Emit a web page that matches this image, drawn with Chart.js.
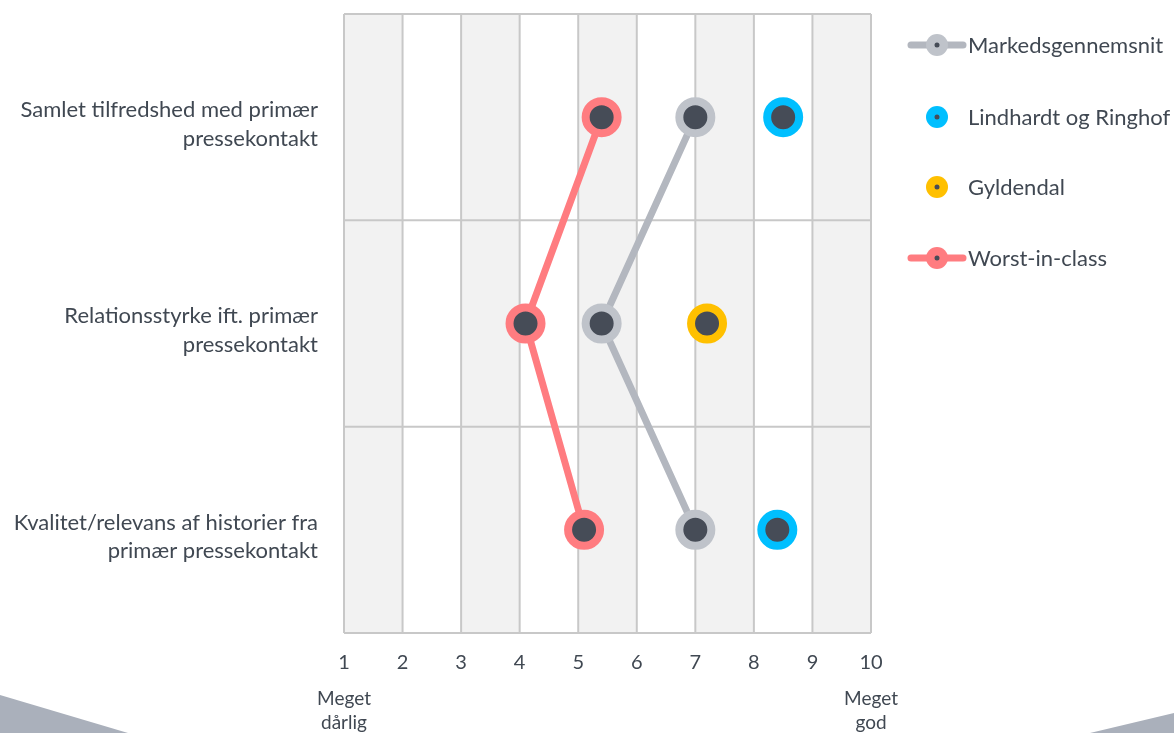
<!DOCTYPE html>
<html>
<head>
<meta charset="utf-8">
<script src="https://cdn.jsdelivr.net/npm/chart.js@4.4.1/dist/chart.umd.min.js"></script>
<style>
  html, body { margin: 0; padding: 0; background: #fff; }
  #wrap { width: 1174px; height: 733px; position: relative; }
</style>
</head>
<body>
<div id="wrap"><canvas id="chart"></canvas></div>
<script>
const categories = [
    ["Samlet tilfredshed med primær", "pressekontakt"],
    ["Relationsstyrke ift. primær", "pressekontakt"],
    ["Kvalitet/relevans af historier fra", "primær pressekontakt"]
];
const xTicks = [1, 2, 3, 4, 5, 6, 7, 8, 9, 10];
const markedsgennemsnit = [7.0, 5.4, 7.0];
const lindhardt = [8.5, null, 8.4];
const gyldendal = [null, 7.2, null];
const worstInClass = [5.4, 4.1, 5.1];
const seriesNames = ["Markedsgennemsnit", "Lindhardt og Ringhof", "Gyldendal", "Worst-in-class"];
const seriesColors = ["#bfc3ca", "#00bfff", "#ffc000", "#ff7c80"];
const lineColors = ["#b3b7bf", null, null, "#ff7c80"];

const textColor = "#404852";
const dotColor = "#464c57";
const font = "Lato, 'Open Sans', sans-serif";

// shaded columns 1-2, 3-4, ...
const bandsPlugin = {
    id: "bands",
    beforeDatasetsDraw(chart) {
        const ctx = chart.ctx, x = chart.scales.x, a = chart.chartArea;
        ctx.save();
        ctx.fillStyle = "#f2f2f2";
        for (let v = 1; v < 10; v += 2) {
            const x0 = x.getPixelForValue(v), x1 = x.getPixelForValue(v + 1);
            ctx.fillRect(x0, a.top, x1 - x0, a.bottom - a.top);
        }
        ctx.restore();
    }
};

// grid on top of the bands
const gridPlugin = {
    id: "gridOver",
    beforeDatasetsDraw(chart) {
        const ctx = chart.ctx, x = chart.scales.x, a = chart.chartArea;
        ctx.save();
        ctx.strokeStyle = "#c8c8c8";
        ctx.lineWidth = 2;
        xTicks.forEach(v => {
            const px = x.getPixelForValue(v);
            ctx.beginPath(); ctx.moveTo(px, a.top); ctx.lineTo(px, a.bottom); ctx.stroke();
        });
        const rowH = (a.bottom - a.top) / categories.length;
        for (let i = 0; i <= categories.length; i++) {
            const py = a.top + rowH * i;
            ctx.beginPath(); ctx.moveTo(a.left, py); ctx.lineTo(a.right, py); ctx.stroke();
        }
        ctx.restore();
    }
};

const extrasPlugin = {
    id: "extras",
    afterDraw(chart) {
        const ctx = chart.ctx, x = chart.scales.x;
        ctx.save();
        // decor triangles
        ctx.fillStyle = "#aab0bb";
        ctx.beginPath(); ctx.moveTo(0, 695); ctx.lineTo(128, 733); ctx.lineTo(0, 733); ctx.closePath(); ctx.fill();
        ctx.beginPath(); ctx.moveTo(1090, 733); ctx.lineTo(1174, 713); ctx.lineTo(1174, 733); ctx.closePath(); ctx.fill();

        // end labels
        ctx.fillStyle = textColor;
        ctx.font = "19px " + font;
        ctx.textAlign = "center";
        ctx.textBaseline = "middle";
        const l = x.getPixelForValue(1), r = x.getPixelForValue(10);
        ctx.fillText("Meget", l, 699);
        ctx.fillText("dårlig", l, 723);
        ctx.fillText("Meget", r, 699);
        ctx.fillText("god", r, 723);

        // legend
        const ys = [45, 117, 187, 258];
        const cx = 937;
        ctx.textAlign = "left";
        ctx.font = "22px " + font;
        seriesNames.forEach((name, i) => {
            const y = ys[i];
            if (lineColors[i]) {
                ctx.strokeStyle = lineColors[i];
                ctx.lineWidth = 7;
                ctx.lineCap = "round";
                ctx.beginPath(); ctx.moveTo(911, y); ctx.lineTo(963, y); ctx.stroke();
            }
            ctx.fillStyle = seriesColors[i];
            ctx.beginPath(); ctx.arc(cx, y, 11, 0, Math.PI * 2); ctx.fill();
            ctx.fillStyle = dotColor;
            ctx.beginPath(); ctx.arc(cx, y, 2.5, 0, Math.PI * 2); ctx.fill();
            ctx.fillStyle = textColor;
            ctx.fillText(name, 968, y + 1);
        });
        ctx.restore();
    }
};

function makeSet(i, data, showLine) {
    return {
        label: seriesNames[i],
        data: data,
        showLine: showLine,
        borderColor: lineColors[i] || seriesColors[i],
        borderWidth: 7,
        pointRadius: 16,
        pointHoverRadius: 16,
        pointBorderWidth: 8,
        pointBackgroundColor: dotColor,
        pointBorderColor: seriesColors[i],
        spanGaps: false
    };
}

new Chart(document.getElementById("chart"), {
    type: "line",
    data: {
        labels: categories,
        datasets: [
            makeSet(3, worstInClass, true),
            makeSet(0, markedsgennemsnit, true),
            makeSet(1, lindhardt, false),
            makeSet(2, gyldendal, false)
        ]
    },
    options: {
        indexAxis: "y",
        responsive: true,
        maintainAspectRatio: false,
        animation: false,
        layout: { autoPadding: false, padding: { top: 14, right: 303, left: 0, bottom: 0 } },
        plugins: {
            legend: { display: false },
            tooltip: { enabled: false }
        },
        scales: {
            x: {
                type: "linear",
                min: 1,
                max: 10,
                ticks: { stepSize: 1, color: textColor, font: { family: font, size: 20 }, padding: 10 },
                grid: { display: false },
                border: { display: false },
                afterFit(scale) { scale.height = 100; scale.paddingLeft = 0; scale.paddingRight = 0; }
            },
            y: {
                type: "category",
                offset: true,
                ticks: { color: textColor, font: { family: font, size: 22, lineHeight: 1.3 }, padding: 18, labelOffset: 7 },
                grid: { display: false },
                border: { display: false },
                afterFit(scale) { scale.width = 344; scale.paddingTop = 0; scale.paddingBottom = 0; }
            }
        }
    },
    plugins: [bandsPlugin, gridPlugin, extrasPlugin]
});
</script>
</body>
</html>
